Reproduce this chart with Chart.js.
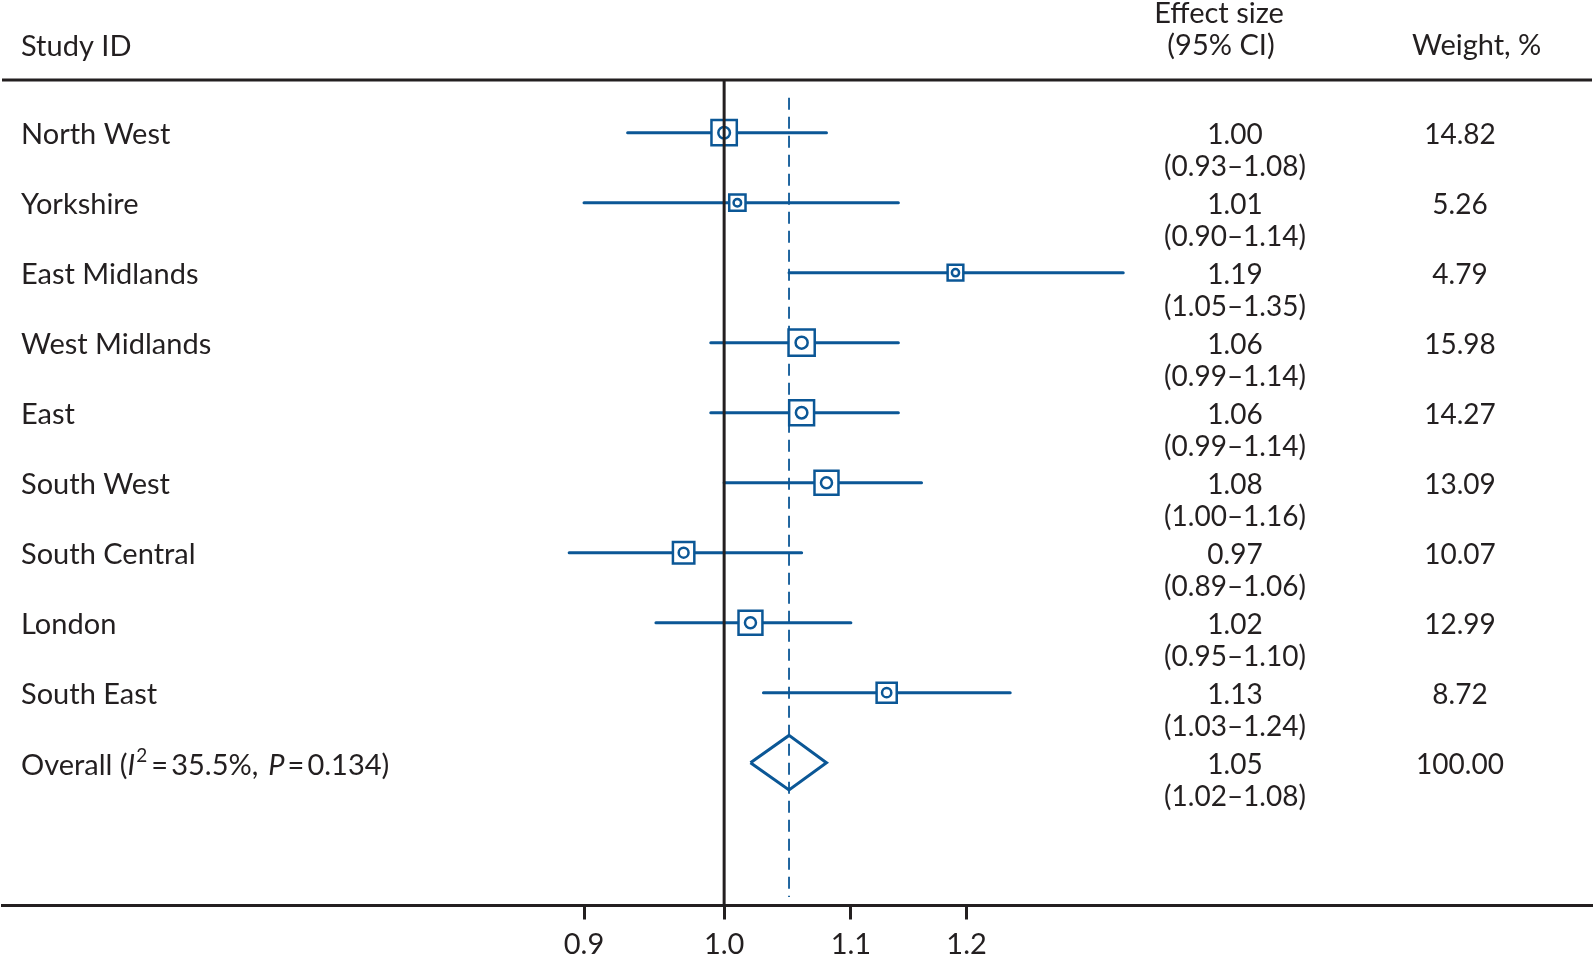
<!DOCTYPE html>
<html>
<head>
<meta charset="utf-8">
<title>Forest plot</title>
<script src="https://cdn.jsdelivr.net/npm/chart.js@4.4.1/dist/chart.umd.min.js"></script>
<style>
    html, body { margin: 0; padding: 0; background: #fff; overflow: hidden; }
    #wrap { width: 1596px; height: 954px; }
</style>
</head>
<body>
<div id="wrap"><canvas id="forest" width="1596" height="954"></canvas></div>
<script>
// Study rows
const studies = ['North West', 'Yorkshire', 'East Midlands', 'West Midlands', 'East',
                 'South West', 'South Central', 'London', 'South East'];
const effect  = [1.00, 1.01, 1.19, 1.06, 1.06, 1.08, 0.97, 1.02, 1.13];
const lower   = [0.93, 0.90, 1.05, 0.99, 0.99, 1.00, 0.89, 0.95, 1.03];
const upper   = [1.08, 1.14, 1.35, 1.14, 1.14, 1.16, 1.06, 1.10, 1.24];
const weights = [14.82, 5.26, 4.79, 15.98, 14.27, 13.09, 10.07, 12.99, 8.72];

// Pooled estimate
const overallEffect = 1.05;
const overallCI = [1.02, 1.08];
const overallWeight = 100.00;
const overallStats = ['35.5%', '0.134'];   // I-squared, P

// Axis
const xTicks = [0.9, 1.0, 1.1, 1.2];
const xRange = [0.581, 1.9205];
const yRange = [-0.753, 11.04];

const ink = '#231f20';
const blue = '#0b5796';
const fontFamily = 'Lato, "Open Sans", sans-serif';
const overallRow = studies.length;

// Box side grows with study weight
function boxSide(w) { return 3 + 5.8 * Math.sqrt(w); }

// CI segments separated by gaps
const ciData = [];
studies.forEach((s, i) => {
    ciData.push({ x: lower[i], y: i }, { x: upper[i], y: i }, { x: upper[i], y: null });
});
const boxData = effect.map((v, i) => ({ x: v, y: i }));
const diamondHalf = 0.39;
const diamondData = [
    { x: overallCI[0], y: overallRow },
    { x: overallEffect, y: overallRow - diamondHalf },
    { x: overallCI[1], y: overallRow },
    { x: overallEffect, y: overallRow + diamondHalf },
    { x: overallCI[0], y: overallRow }
];

// Table text, rules and header
const tablePlugin = {
    id: 'forestTable',
    afterDraw(chart) {
        const { ctx, chartArea, scales: { y } } = chart;
        ctx.save();
        ctx.strokeStyle = ink;
        ctx.lineWidth = 3;
        ctx.beginPath();
        ctx.moveTo(chartArea.left, chartArea.top);
        ctx.lineTo(chartArea.right, chartArea.top);
        ctx.stroke();

        ctx.fillStyle = ink;
        ctx.textBaseline = 'alphabetic';
        ctx.font = `29px ${fontFamily}`;
        ctx.textAlign = 'left';
        ctx.fillText('Study ID', 21, 56);
        ctx.fillText('Weight, %', 1412, 55);
        ctx.textAlign = 'center';
        ctx.fillText('Effect size', 1219, 23);
        ctx.fillText('(95% CI)', 1221, 55);

        const drawRow = (i, label, est, lo, hi, w) => {
            const yp = y.getPixelForValue(i);
            ctx.font = `29px ${fontFamily}`;
            if (label) {
                ctx.textAlign = 'left';
                ctx.fillText(label, 21, yp + 11);
            }
            ctx.font = `28px ${fontFamily}`;
            ctx.textAlign = 'center';
            ctx.fillText(est.toFixed(2), 1235, yp + 11);
            ctx.fillText(`(${lo.toFixed(2)}\u2013${hi.toFixed(2)})`, 1235, yp + 43);
            ctx.fillText(w.toFixed(2), 1460, yp + 11);
        };
        studies.forEach((s, i) => drawRow(i, s, effect[i], lower[i], upper[i], weights[i]));
        drawRow(overallRow, null, overallEffect, overallCI[0], overallCI[1], overallWeight);

        // Overall label with italic symbols and superscript
        const yo = y.getPixelForValue(overallRow) + 12;
        const parts = [
            ['Overall (', 'normal', 0, 0],
            ['I', 'italic', 0, 1],
            ['2', 'sup', -13, 4],
            ['=', 'normal', 0, 3],
            [overallStats[0] + ',', 'normal', 0, 10],
            ['P', 'italic', 0, 3],
            ['=', 'normal', 0, 3],
            [overallStats[1] + ')', 'normal', 0, 0]
        ];
        ctx.textAlign = 'left';
        let xo = 21;
        parts.forEach(([txt, style, dy, gap]) => {
            ctx.font = style === 'sup' ? `19px ${fontFamily}`
                     : style === 'italic' ? `italic 29px ${fontFamily}` : `29px ${fontFamily}`;
            ctx.fillText(txt, xo, yo + dy);
            xo += ctx.measureText(txt).width + gap;
        });
        ctx.restore();
    }
};

new Chart(document.getElementById('forest'), {
    type: 'scatter',
    data: {
        datasets: [
            {   // line of no effect
                data: [{ x: 1, y: yRange[0] }, { x: 1, y: yRange[1] }],
                showLine: true, borderColor: ink, borderWidth: 3, pointRadius: 0, order: 0
            },
            {   // point estimate markers
                data: boxData,
                pointStyle: 'circle',
                pointRadius: weights.map(w => boxSide(w) * 0.23),
                pointBackgroundColor: 'rgba(0,0,0,0)', pointBorderColor: blue, pointBorderWidth: 2.5,
                order: 1
            },
            {   // pooled diamond
                data: diamondData,
                showLine: true, borderColor: blue, borderWidth: 3, pointRadius: 0,
                borderJoinStyle: 'miter', order: 1
            },
            {   // weight boxes
                data: boxData,
                pointStyle: 'rect',
                pointRadius: weights.map(w => boxSide(w) / Math.SQRT2),
                pointBackgroundColor: '#fff', pointBorderColor: blue, pointBorderWidth: 2.5,
                order: 2
            },
            {   // confidence intervals
                data: ciData,
                showLine: true, spanGaps: false, borderColor: blue, borderWidth: 3,
                borderCapStyle: 'round', pointRadius: 0, order: 3
            },
            {   // pooled estimate reference
                data: [{ x: overallEffect, y: -0.5 }, { x: overallEffect, y: 10.92 }],
                showLine: true, borderColor: blue, borderWidth: 1.8, borderDash: [12, 7],
                pointRadius: 0, order: 5
            }
        ]
    },
    options: {
        responsive: false,
        animation: false,
        layout: { autoPadding: false, padding: { left: 2, right: 4, top: 80, bottom: 0 } },
        plugins: { legend: { display: false }, tooltip: { enabled: false } },
        scales: {
            x: {
                type: 'logarithmic',
                min: xRange[0],
                max: xRange[1],
                afterBuildTicks: scale => { scale.ticks = xTicks.map(v => ({ value: v })); },
                afterFit: scale => {
                    scale.height = 48.5;
                    scale.paddingLeft = 0;
                    scale.paddingRight = 0;
                },
                grid: { drawOnChartArea: false, drawTicks: true, tickLength: 14, tickWidth: 3, tickColor: ink },
                border: { display: true, color: ink, width: 3 },
                ticks: {
                    callback: v => Number(v).toFixed(1),
                    font: { family: fontFamily, size: 29 },
                    color: ink, padding: 8, maxRotation: 0, autoSkip: false
                }
            },
            y: {
                type: 'linear',
                display: false,
                reverse: true,
                min: yRange[0],
                max: yRange[1]
            }
        }
    },
    plugins: [tablePlugin]
});
</script>
</body>
</html>
